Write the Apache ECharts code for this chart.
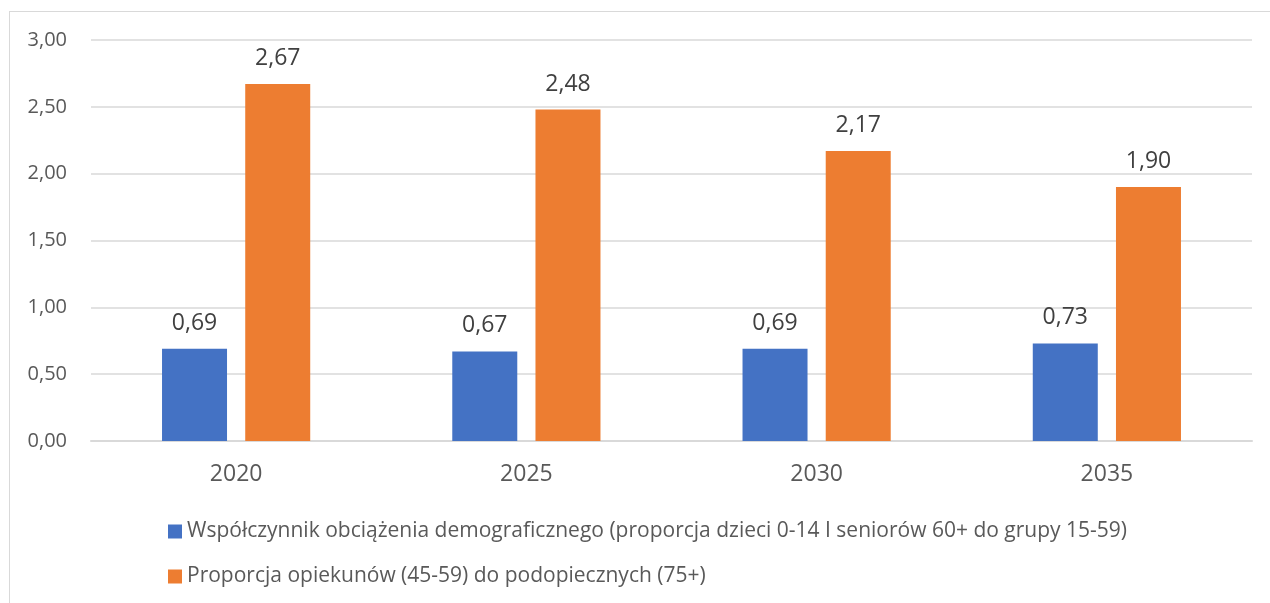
<!DOCTYPE html>
<html><head><meta charset="utf-8">
<script src="https://cdn.jsdelivr.net/npm/echarts@6/dist/echarts.min.js"></script>
<style>
html,body{margin:0;padding:0;background:#fff;}
#frame{position:absolute;left:9px;top:11px;width:1300px;height:700px;border:1px solid #d9d9d9;box-sizing:border-box;}
#c{position:absolute;left:0;top:0;width:1270px;height:603px;}
</style></head>
<body><div id="frame"></div><div id="c"></div>
<script>
var categories = ['2020','2025','2030','2035'];
var seriesNames = ['Współczynnik obciążenia demograficznego (proporcja dzieci 0-14 I seniorów 60+ do grupy 15-59)','Proporcja opiekunów (45-59) do podopiecznych (75+)'];
var dependency = [0.69,0.67,0.69,0.73];
var caregivers = [2.67,2.48,2.17,1.90];
var colors = ['#4472c4','#ed7d31'];
var fmt = function(v){return v.toFixed(2).replace('.',',');};
var chart = echarts.init(document.getElementById('c'));
var font = 'Open Sans';
var lbl = {show:true,position:'top',distance:14,fontFamily:font,fontSize:23,color:'#404040',formatter:function(p){return fmt(p.value);}};
chart.setOption({
  animation:false,
  grid:{left:91,right:18,top:40,bottom:162,containLabel:false},
  legend:{orient:'vertical',left:163,top:516,itemWidth:14,itemHeight:14,itemGap:24,icon:'rect',
    textStyle:{fontFamily:font,fontSize:21,color:'#595959'}},
  xAxis:{type:'category',data:categories,axisTick:{show:false},
    axisLine:{lineStyle:{color:'#d9d9d9',width:2}},
    axisLabel:{fontFamily:font,fontSize:23,color:'#595959',margin:22}},
  yAxis:{type:'value',min:0,max:3,interval:0.5,
    axisLabel:{fontFamily:font,fontSize:20,color:'#595959',margin:24,formatter:fmt},
    splitLine:{lineStyle:{color:'#d9d9d9',width:1.5}}},
  series:[
    {name:seriesNames[0],type:'bar',data:dependency,barWidth:65,barGap:'28%',itemStyle:{color:colors[0]},label:lbl},
    {name:seriesNames[1],type:'bar',data:caregivers,barWidth:65,itemStyle:{color:colors[1]},label:lbl}
  ]
});
</script></body></html>
